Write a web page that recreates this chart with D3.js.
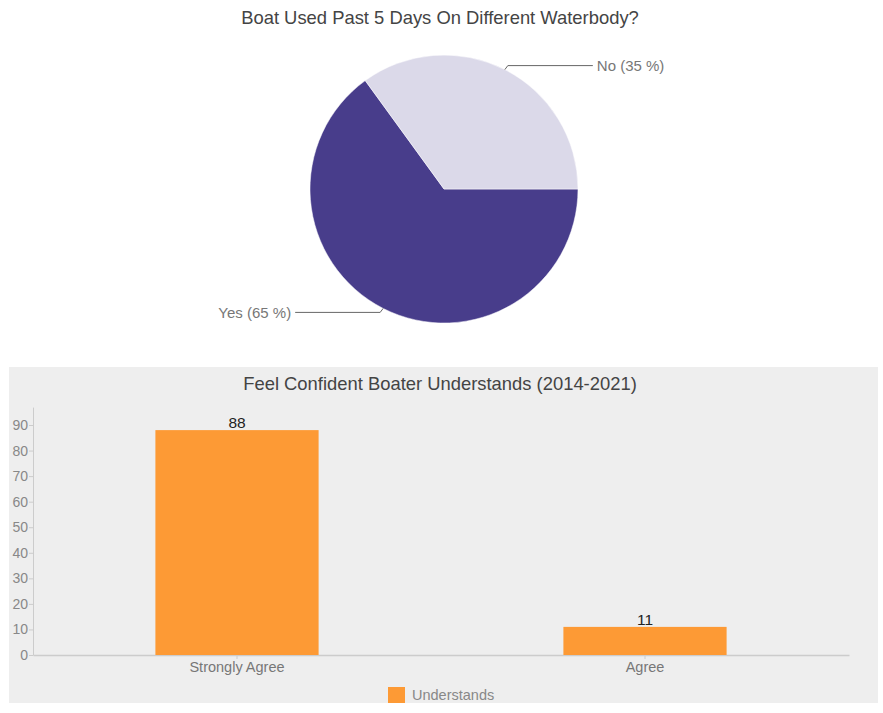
<!DOCTYPE html>
<html>
<head>
<meta charset="utf-8">
<script src="https://cdn.jsdelivr.net/npm/d3@7"></script>
<style>
  body { margin: 0; background: #fff; }
  svg { display: block; font-family: "Liberation Sans", Arial, sans-serif; }
</style>
</head>
<body>
<svg id="chart" width="883" height="713"></svg>
<script>
// ---- Data ----
const pieTitle = "Boat Used Past 5 Days On Different Waterbody?";
const pieLabels = ["Yes", "No"];
const pieValues = [65, 35];
const pieColors = ["#483d8b", "#dbd9e9"];

const barTitle = "Feel Confident Boater Understands (2014-2021)";
const barCategories = ["Strongly Agree", "Agree"];
const barValues = [88, 11];
const barSeriesName = "Understands";
const yTicks = [0, 10, 20, 30, 40, 50, 60, 70, 80, 90];

const svg = d3.select("#chart");
const FONT = "Liberation Sans, Arial, sans-serif";

// ---- Pie chart ----
svg.append("text")
  .attr("x", 440).attr("y", 24)
  .attr("text-anchor", "middle")
  .attr("font-size", 18.4).attr("fill", "#444")
  .text(pieTitle);

const cx = 444, cy = 189, r = 134;
const pie = d3.pie().sort(null)
  .startAngle(Math.PI / 2).endAngle(Math.PI / 2 + 2 * Math.PI)
  .value(d => d);
const arcs = pie(pieValues);
const arc = d3.arc().innerRadius(0).outerRadius(r);
const pg = svg.append("g").attr("transform", `translate(${cx},${cy})`);
pg.selectAll("path").data(arcs).enter().append("path")
  .attr("d", arc)
  .attr("fill", (d, i) => pieColors[i])
  .attr("stroke", "#fff").attr("stroke-width", 0.5);

// Labels with leader lines
arcs.forEach((d, i) => {
  const mid = (d.startAngle + d.endAngle) / 2;
  const px = Math.sin(mid) * r, py = -Math.cos(mid) * r;
  const right = px > 0;
  const ex = right ? px + 88 : px - 88;
  const lineY = right ? py - 4 : py + 4;
  pg.append("path")
    .attr("d", `M${px},${py} L${px + (right ? 3 : -3)},${lineY} L${ex},${lineY}`)
    .attr("fill", "none").attr("stroke", "#666").attr("stroke-width", 1);
  pg.append("text")
    .attr("x", right ? ex + 4 : ex - 4)
    .attr("y", lineY + 5.5)
    .attr("text-anchor", right ? "start" : "end")
    .attr("font-size", 15).attr("fill", "#777")
    .text(`${pieLabels[i]} (${pieValues[i]} %)`);
});

// ---- Bar chart ----
const panel = { x: 9, y: 367, w: 869, h: 336 };
svg.append("rect")
  .attr("x", panel.x).attr("y", panel.y)
  .attr("width", panel.w).attr("height", panel.h)
  .attr("fill", "#eeeeee");

svg.append("text")
  .attr("x", 440).attr("y", 390)
  .attr("text-anchor", "middle")
  .attr("font-size", 18.4).attr("fill", "#444")
  .text(barTitle);

const x0 = 33, x1 = 849, yBase = 655;
const perUnit = (655 - 425) / 90;
const yMax = 97;
const x = d3.scaleBand().domain(barCategories).range([x0, x1]).padding(0);
const y = d3.scaleLinear().domain([0, yMax]).range([yBase, yBase - yMax * perUnit]);

const g = svg.append("g");

// y axis
const yAxis = d3.axisLeft(y).tickValues(yTicks).tickSize(4).tickPadding(1).tickSizeOuter(0);
const yg = g.append("g").attr("transform", `translate(${x0},0)`).call(yAxis);
yg.select(".domain").attr("stroke", "#ccc");
yg.selectAll(".tick line").attr("stroke", "#ccc");
yg.selectAll(".tick text").attr("fill", "#888").attr("font-size", 14)
  .attr("font-family", FONT);

// x axis
const xAxis = d3.axisBottom(x).tickSize(4).tickSizeOuter(0).tickPadding(3);
const xg = g.append("g").attr("transform", `translate(0,${yBase})`).call(xAxis);
xg.select(".domain").attr("stroke", "#ccc").attr("stroke-width", 1.5);
xg.selectAll(".tick line").attr("stroke", "#ccc");
xg.selectAll(".tick text").attr("fill", "#777").attr("font-size", 14.5)
  .attr("font-family", FONT);

// bars
const bw = x.bandwidth() * 0.4;
g.selectAll("rect.bar").data(barValues).enter().append("rect")
  .attr("class", "bar")
  .attr("x", (d, i) => x(barCategories[i]) + x.bandwidth() / 2 - bw / 2)
  .attr("y", d => y(d))
  .attr("width", bw)
  .attr("height", d => yBase - y(d))
  .attr("fill", "#fd9a35");

g.selectAll("text.val").data(barValues).enter().append("text")
  .attr("class", "val")
  .attr("x", (d, i) => x(barCategories[i]) + x.bandwidth() / 2)
  .attr("y", d => y(d) - 2)
  .attr("text-anchor", "middle")
  .attr("font-size", 15.5).attr("fill", "#222")
  .text(d => d);

// legend
svg.append("rect")
  .attr("x", 388).attr("y", 687).attr("width", 17).attr("height", 16)
  .attr("fill", "#fd9a35");
svg.append("text")
  .attr("x", 412).attr("y", 700)
  .attr("font-size", 14.5).attr("fill", "#888")
  .text(barSeriesName);
</script>
</body>
</html>
